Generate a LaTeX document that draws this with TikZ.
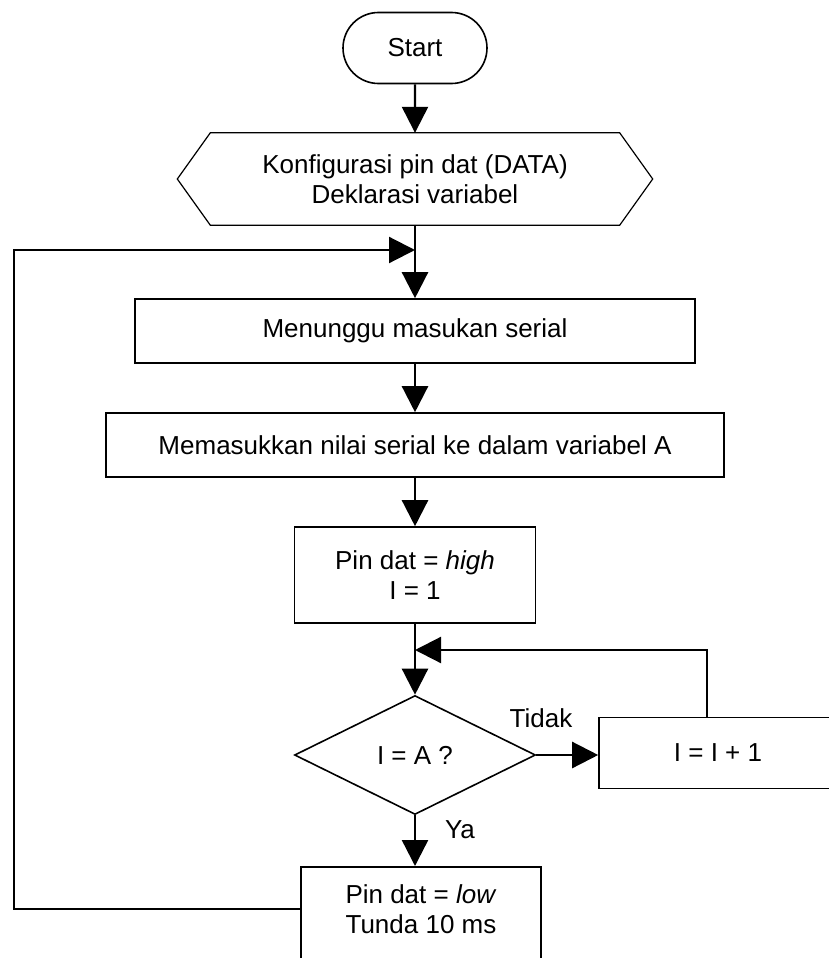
\documentclass[tikz,border=0pt]{standalone}
\usepackage{fontspec}
\setmainfont{Liberation Sans}
\usetikzlibrary{shapes.geometric,shapes.misc,arrows.meta}

\begin{document}
\begin{tikzpicture}[x=1pt, y=-1pt,
        font=\fontsize{26}{30}\selectfont,
        box/.style={draw, line width=1.6pt, rectangle, align=center, inner sep=0pt},
        term/.style={draw, line width=1.6pt, rounded rectangle, inner sep=0pt},
        cond/.style={draw, line width=1.6pt, diamond, inner sep=0pt},
        flow/.style={line width=2.4pt, -{Triangle[length=26pt, width=26pt]}},
        wire/.style={line width=2.2pt}]
        \useasboundingbox (0,0) rectangle (829,958);
        \clip (0,0) rectangle (829,958);
        \node[term, minimum width=144pt, minimum height=71pt] (Start) at (415, 48) {Start};
        \node[align=center, inner sep=0pt, minimum width=475pt, minimum height=92pt] (Init) at (415, 179) {Konfigurasi pin dat (DATA)\\Deklarasi variabel};
        \draw[line width=1.2pt] (Init.west) -- ([xshift=33pt]Init.north west) -- ([xshift=-33pt]Init.north east)
            -- (Init.east) -- ([xshift=-33pt]Init.south east) -- ([xshift=33pt]Init.south west) -- cycle;
        \node[box, minimum width=560pt, minimum height=64pt] (Wait) at (415, 331) {Menunggu masukan serial};
        \node[box, minimum width=618pt, minimum height=64pt] (Read) at (415, 445) {Memasukkan nilai serial ke dalam variabel A};
        \node[box, minimum width=241pt, minimum height=96pt] (SetHigh) at (415, 575) {Pin dat = \textit{high}\\I = 1};
        \node[cond, minimum width=241pt, minimum height=119pt] (Check) at (415, 755) {I = A ?};
        \node[box, minimum width=238pt, minimum height=71pt] (Inc) at (718, 753) {I = I + 1};
        \node[box, anchor=north, minimum width=240pt, inner sep=18pt, text depth=30pt] (SetLow) at (421, 866) {Pin dat = \textit{low}\\Tunda 10 ms};
        \node (LblNo) at (541, 718) {Tidak};
        \node (LblYes) at (460, 830) {Ya};
        \coordinate (Join) at (415, 250);
        \coordinate (Corner) at (14, 250);
        \coordinate (Merge) at (415, 650);
        \coordinate (Back) at (707, 650);
        % connectors
        \draw[flow] (Start) -- (Init);
        \draw[flow] (Init) -- (Wait);
        \draw[flow] (Wait) -- (Read);
        \draw[flow] (Read) -- (SetHigh);
        \draw[flow] (SetHigh) -- (Check);
        \draw[flow] (Check.east) -- (Check.east -| Inc.west);
        \draw[flow] (Check.south) -- (Check.south |- SetLow.north);
        \draw[wire, -{Triangle[length=26pt, width=26pt]}] (Back |- Inc.north) -- (Back) -- (Merge);
        \draw[wire, -{Triangle[length=26pt, width=26pt]}] ([yshift=15pt]SetLow.west) -| (Corner) -- (Join);
    \end{tikzpicture}
\end{document}
